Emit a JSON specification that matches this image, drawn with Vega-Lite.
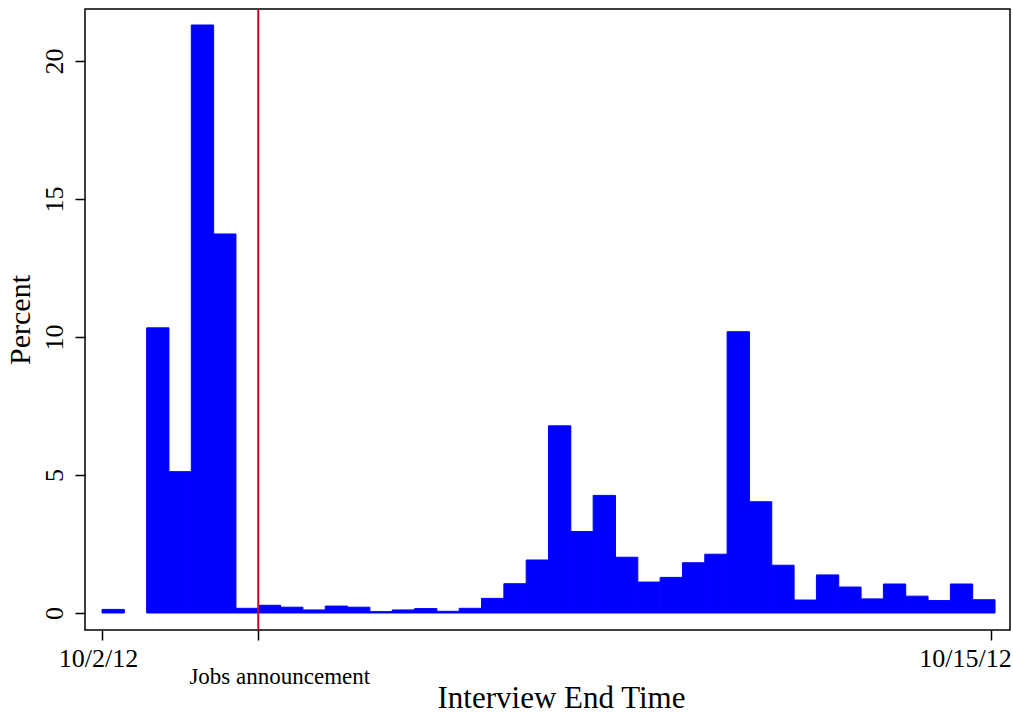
{
  "$schema": "https://vega.github.io/schema/vega-lite/v6.json",
  "width": 925,
  "height": 621,
  "autosize": "none",
  "padding": {"left": 85, "top": 9, "right": 3, "bottom": 85},
  "background": "white",
  "config": {
    "view": {"stroke": "black", "strokeWidth": 1.5},
    "font": "Liberation Serif",
    "axis": {
      "labelColor": "black",
      "titleColor": "black",
      "tickColor": "black",
      "labelFont": "Liberation Serif",
      "titleFont": "Liberation Serif",
      "titleFontWeight": "normal",
      "domain": false,
      "grid": false,
      "tickSize": 10,
      "tickWidth": 1.5,
      "labelLimit": 0
    }
  },
  "datasets": {
    "bins": [
      {"day_start": 0, "day_end": 0.3265, "percent": 0.13},
      {"day_start": 0.653, "day_end": 0.9795, "percent": 10.33},
      {"day_start": 0.9795, "day_end": 1.306, "percent": 5.12},
      {"day_start": 1.306, "day_end": 1.6325, "percent": 21.3},
      {"day_start": 1.6325, "day_end": 1.959, "percent": 13.73},
      {"day_start": 1.959, "day_end": 2.2855, "percent": 0.17},
      {"day_start": 2.2855, "day_end": 2.612, "percent": 0.28},
      {"day_start": 2.612, "day_end": 2.9385, "percent": 0.21},
      {"day_start": 2.9385, "day_end": 3.265, "percent": 0.11},
      {"day_start": 3.265, "day_end": 3.5915, "percent": 0.25},
      {"day_start": 3.5915, "day_end": 3.918, "percent": 0.21},
      {"day_start": 3.918, "day_end": 4.2445, "percent": 0.05},
      {"day_start": 4.2445, "day_end": 4.571, "percent": 0.11},
      {"day_start": 4.571, "day_end": 4.8975, "percent": 0.16},
      {"day_start": 4.8975, "day_end": 5.224, "percent": 0.06},
      {"day_start": 5.224, "day_end": 5.5505, "percent": 0.17},
      {"day_start": 5.5505, "day_end": 5.877, "percent": 0.53},
      {"day_start": 5.877, "day_end": 6.2035, "percent": 1.06},
      {"day_start": 6.2035, "day_end": 6.53, "percent": 1.92},
      {"day_start": 6.53, "day_end": 6.8565, "percent": 6.78},
      {"day_start": 6.8565, "day_end": 7.183, "percent": 2.95},
      {"day_start": 7.183, "day_end": 7.5095, "percent": 4.26},
      {"day_start": 7.5095, "day_end": 7.836, "percent": 2.02},
      {"day_start": 7.836, "day_end": 8.1625, "percent": 1.12},
      {"day_start": 8.1625, "day_end": 8.489, "percent": 1.29},
      {"day_start": 8.489, "day_end": 8.8155, "percent": 1.82},
      {"day_start": 8.8155, "day_end": 9.142, "percent": 2.13},
      {"day_start": 9.142, "day_end": 9.4685, "percent": 10.19},
      {"day_start": 9.4685, "day_end": 9.795, "percent": 4.03},
      {"day_start": 9.795, "day_end": 10.1215, "percent": 1.73},
      {"day_start": 10.1215, "day_end": 10.448, "percent": 0.47},
      {"day_start": 10.448, "day_end": 10.7745, "percent": 1.38},
      {"day_start": 10.7745, "day_end": 11.101, "percent": 0.94},
      {"day_start": 11.101, "day_end": 11.4275, "percent": 0.51},
      {"day_start": 11.4275, "day_end": 11.754, "percent": 1.05},
      {"day_start": 11.754, "day_end": 12.0805, "percent": 0.61},
      {"day_start": 12.0805, "day_end": 12.407, "percent": 0.45},
      {"day_start": 12.407, "day_end": 12.7335, "percent": 1.05},
      {"day_start": 12.7335, "day_end": 13.06, "percent": 0.48}
    ],
    "events": [
      {"event": "Jobs announcement", "day": 2.2855}
    ]
  },
  "layer": [
    {
      "data": {"name": "bins"},
      "mark": {"type": "rect", "color": "#0000ff", "stroke": "#0000ff", "strokeWidth": 1},
      "encoding": {
        "x": {
          "field": "day_start",
          "type": "quantitative",
          "scale": {"domain": [-0.2486, 13.279], "nice": false, "zero": false},
          "axis": {
            "title": "Interview End Time",
            "titleFontSize": 31,
            "titleBaseline": "alphabetic",
            "titleY": 77,
            "titleX": 476,
            "values": [0, 2.2855, 13],
            "labelExpr": "datum.value < 1 ? '10/2/12' : datum.value > 12 ? '10/15/12' : 'Jobs announcement'",
            "labelFontSize": {"condition": {"test": "datum.value > 1 && datum.value < 12", "value": 23}, "value": 26},
            "labelPadding": {"condition": {"test": "datum.value > 1 && datum.value < 12", "value": 25}, "value": 5},
            "labelOffset": {"condition": [{"test": "datum.value > 12", "value": -26}, {"test": "datum.value > 1", "value": 21}], "value": -4},
            "labelLimit": 0,
            "labelFlush": false,
            "labelOverlap": false,
            "labelBound": false
          }
        },
        "x2": {"field": "day_end"},
        "y": {
          "field": "percent",
          "type": "quantitative",
          "scale": {"domain": [-0.616, 21.88], "nice": false, "zero": false},
          "axis": {
            "title": "Percent",
            "titleFontSize": 30,
            "titlePadding": 6,
            "values": [0, 5, 10, 15, 20],
            "labelAngle": -90,
            "labelAlign": "center",
            "labelBaseline": "alphabetic",
            "labelFontSize": 26,
            "labelPadding": 13
          }
        },
        "y2": {"datum": 0}
      }
    },
    {
      "data": {"name": "events"},
      "mark": {"type": "rule", "color": "#c8002d", "strokeWidth": 2},
      "encoding": {
        "x": {"field": "day", "type": "quantitative"}
      }
    }
  ]
}
